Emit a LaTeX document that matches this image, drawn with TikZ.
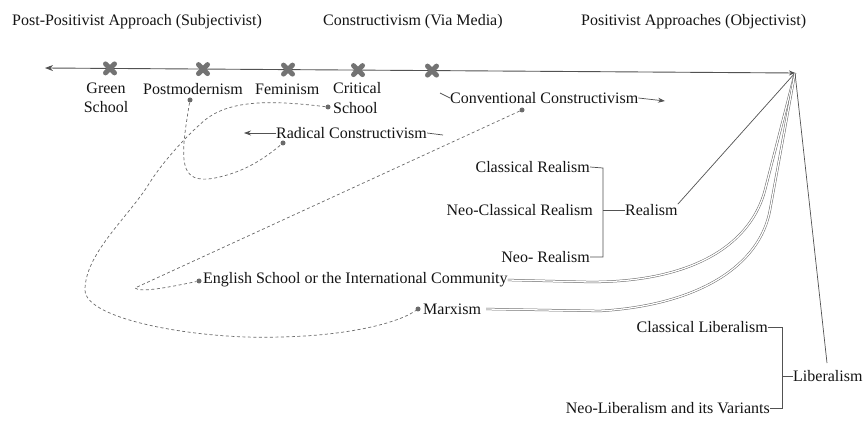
\documentclass[tikz,border=0pt]{standalone}
\usepackage{fontspec}
\setmainfont{Liberation Serif}
\usetikzlibrary{arrows.meta}
\tikzset{
  lbl/.style={inner sep=0pt, text=black!92},
  conn/.style={draw=black!68, line width=0.7pt},
  dashconn/.style={draw=black!58, line width=0.7pt, dash pattern=on 3pt off 2.5pt},
  dblconn/.style={draw=black!60, line width=0.5pt, double=white, double distance=1.3pt},
  dotn/.style={circle, fill=black!58, inner sep=0pt, minimum size=5pt},
  tip/.style={-{Stealth[length=7pt,width=5pt]}},
  xmk/.pic={\draw[line width=5pt, black!55, line cap=round] (-4.5,-4.5) -- (4.5,4.5) (-4.5,4.5) -- (4.5,-4.5);}
}
\begin{document}
\begin{tikzpicture}[x=1pt,y=-1pt,font=\fontsize{16}{19.5}\selectfont]
\fill[white] (0,0) rectangle (868,422);
\useasboundingbox (0,0) rectangle (868,422);

% titles
\node[lbl, anchor=west] (tpost) at (12,22) {Post-Positivist Approach (Subjectivist)};
\node[lbl, anchor=west] (tcons) at (323,22) {Constructivism (Via Media)};
\node[lbl, anchor=west] (tpos) at (581,22) {Positivist Approaches (Objectivist)};

% main axis
\coordinate (apex) at (795,73);
\coordinate (leftend) at (45,68);
\draw[conn, line width=0.9pt, {Stealth[length=8pt,width=6pt]}-{Stealth[length=6pt,width=5pt]}] (leftend) -- (apex);
\pic at (110,68.4) {xmk};
\pic at (203,69.1) {xmk};
\pic at (288,69.6) {xmk};
\pic at (358,70.1) {xmk};
\pic at (432,70.6) {xmk};

% post-positivist labels
\node[lbl, align=center] (green) at (106,98) {Green\\School};
\node[lbl, anchor=west] (postm) at (143,89) {Postmodernism};
\node[lbl, anchor=west] (femin) at (255,89) {Feminism};
\node[lbl, anchor=west, align=left] (crit) at (333,98) {Critical\\School};

% constructivism labels
\node[lbl, anchor=west] (radical) at (276,133) {Radical Constructivism};
\node[lbl, anchor=west] (convent) at (450,98) {Conventional Constructivism};
\coordinate (radtip) at (244,133);
\coordinate (radtail) at (443,135);
\coordinate (convlead) at (440,93);
\coordinate (convtip) at (665,101);
\draw[conn, tip] (radical.west) -- (radtip);
\draw[conn] (radical.east) -- (radtail);
\draw[conn] (convlead) -- (convent.west);
\draw[conn, tip] (convent.east) -- (convtip);

% dots
\node[dotn] (dpost) at (190,100) {};
\node[dotn] (dcrit) at (328,107) {};
\node[dotn] (drad) at (283,143) {};
\node[dotn] (dconv) at (522,110) {};
\node[dotn] (deng) at (199,281) {};
\node[dotn] (dmarx) at (418,309) {};

% realism
\node[lbl, anchor=east] (clreal) at (590,167) {Classical Realism};
\node[lbl, anchor=east] (ncreal) at (593,210) {Neo-Classical Realism};
\node[lbl, anchor=east] (nreal) at (590,257) {Neo- Realism};
\node[lbl, anchor=west] (realism) at (625,210) {Realism};
\coordinate (rbtop) at (603,168);
\coordinate (rbbot) at (603,257);
\coordinate (rbmid) at (603,210);
\draw[conn] (clreal.east) -- (rbtop) -- (rbbot) -- (nreal.east);
\draw[conn] (rbmid) -- (realism.west);
\draw[conn] (apex) -- (realism.north east);

% english school and marxism
\node[lbl, anchor=west] (english) at (203,280) {English School or the International Community};
\node[lbl, anchor=west] (marx) at (423,309) {Marxism};
\coordinate (engflat) at (590,282);
\coordinate (engbend) at (765,190);
\coordinate (marflat) at (600,311);
\coordinate (marbend) at (770,210);
\draw[dblconn] (english.east) -- (engflat) .. controls (700,282) and (752,240) .. (engbend) -- (apex);
\draw[dblconn] ([xshift=5pt]marx.east) -- (marflat) .. controls (700,305) and (760,265) .. (marbend) -- (apex);

% liberalism
\node[lbl, anchor=east] (clib) at (768,327) {Classical Liberalism};
\node[lbl, anchor=west] (lib) at (793,376) {Liberalism};
\node[lbl, anchor=east] (nlib) at (770,408) {Neo-Liberalism and its Variants};
\coordinate (lbtop) at (782,327);
\coordinate (lbbot) at (782,408);
\coordinate (lbmid) at (782,376);
\draw[conn] (clib.east) -- (lbtop) -- (lbbot) -- (nlib.east);
\draw[conn] (lbmid) -- (lib.west);
\coordinate (libtop) at (827,363);
\draw[conn] (apex) -- (libtop);

% dashed links
\coordinate (pmturn) at (215,178);
\draw[dashconn] (dpost) .. controls (180,160) and (178,185) .. (pmturn) .. controls (245,172) and (265,158) .. (drad);

\coordinate (cr1) at (205,120);
\coordinate (cr2) at (147,187);
\coordinate (cr3) at (85,290);
\coordinate (cr4) at (280,337);
\draw[dashconn] (dcrit) .. controls (270,100) and (230,100) .. (cr1) .. controls (185,137) and (160,165) .. (cr2) .. controls (125,220) and (85,255) .. (cr3) .. controls (85,320) and (200,340) .. (cr4) .. controls (340,336) and (395,325) .. (dmarx);

\coordinate (engturn) at (135,288);
\draw[dashconn] (dconv) -- (engturn) .. controls (140,293) and (170,287) .. (deng);
\end{tikzpicture}
\end{document}
